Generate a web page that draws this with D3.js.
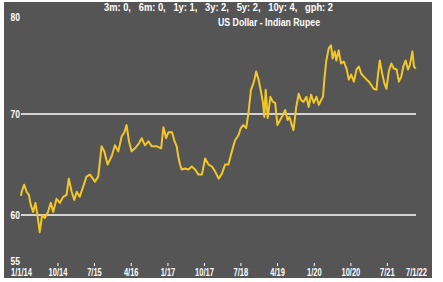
<!DOCTYPE html>
<html><head><meta charset="utf-8">
<script src="https://cdn.jsdelivr.net/npm/d3@7"></script>
<style>
html,body{margin:0;padding:0;background:#fff;}
text{font-family:"Liberation Sans",Arial,sans-serif;font-weight:bold;fill:#fff;}
</style></head>
<body>
<svg id="c" width="443" height="282"></svg>
<script>
const title = "US Dollar - Indian Rupee";
const statNames = ["3m","6m","1y","3y","5y","10y","gph"];
const statValues = [0,0,1,2,2,4,2];

const dates = ["2014-01-01","2014-01-06","2014-01-25","2014-02-12","2014-03-01","2014-03-15","2014-04-02","2014-04-19","2014-05-04","2014-05-21","2014-06-08","2014-06-28","2014-07-22","2014-08-12","2014-08-30","2014-09-24","2014-10-19","2014-11-13","2014-12-08","2014-12-25",
"2015-01-15","2015-02-04","2015-02-22","2015-03-16","2015-04-11","2015-05-06","2015-06-01","2015-06-18","2015-07-08","2015-08-02","2015-08-27","2015-09-16","2015-10-11","2015-11-10","2015-12-05","2015-12-30",
"2016-01-25","2016-02-14","2016-03-01","2016-03-19","2016-04-08","2016-05-03","2016-06-02","2016-06-22","2016-07-17","2016-08-11","2016-09-06","2016-10-13","2016-11-15","2016-12-02","2016-12-22",
"2017-01-09","2017-02-04","2017-02-21","2017-03-11","2017-03-23","2017-04-05","2017-04-18","2017-05-12","2017-06-07","2017-07-02","2017-07-27","2017-08-21","2017-09-16","2017-10-10","2017-11-04","2017-11-30","2017-12-24",
"2018-01-19","2018-02-13","2018-03-08","2018-04-02","2018-04-28","2018-05-22","2018-06-16","2018-07-04","2018-07-23","2018-08-13","2018-08-30","2018-09-18","2018-10-03","2018-10-14","2018-10-27","2018-11-14","2018-12-02","2018-12-17","2018-12-27",
"2019-01-06","2019-01-21","2019-02-10","2019-03-01","2019-03-18","2019-04-04","2019-04-24","2019-05-15","2019-06-01","2019-06-19","2019-07-03","2019-07-21","2019-08-02","2019-08-23","2019-09-10","2019-09-27","2019-10-17","2019-11-07","2019-11-24","2019-12-12",
"2020-01-01","2020-01-21","2020-02-08","2020-02-26","2020-03-10","2020-03-20","2020-04-04","2020-04-22","2020-05-09","2020-05-21","2020-06-06","2020-06-18","2020-07-05","2020-07-23","2020-08-12","2020-09-02","2020-09-19","2020-10-07","2020-10-27","2020-11-16","2020-12-03","2020-12-21",
"2021-01-10","2021-01-31","2021-02-17","2021-03-05","2021-03-24","2021-04-14","2021-04-24","2021-05-09","2021-05-27","2021-06-13","2021-06-28","2021-07-15","2021-08-03","2021-08-22","2021-09-12","2021-09-29","2021-10-17","2021-11-01","2021-11-19","2021-12-06","2021-12-21",
"2022-01-08","2022-01-20","2022-02-02"];
const values = [61.9,62.3,63.0,62.3,62.0,61.0,60.3,61.2,60.0,58.3,60.0,59.7,60.3,61.2,60.3,61.6,61.2,61.8,62.0,63.6,
62.3,61.5,62.3,61.8,62.8,63.8,64.0,63.7,63.3,63.8,66.8,66.3,65.0,65.8,66.9,66.3,
67.8,68.2,68.9,67.3,66.3,66.6,67.1,67.6,66.9,67.3,66.8,66.8,66.6,68.7,67.6,
68.2,68.2,67.4,66.8,65.8,65.0,64.5,64.6,64.5,64.8,64.5,64.0,64.0,65.6,65.0,64.8,64.3,
63.6,64.1,65.0,65.0,66.3,67.4,67.9,68.6,68.9,68.6,70.1,72.4,72.9,73.4,74.2,73.4,72.2,71.1,69.7,
72.4,69.6,71.7,71.2,71.1,68.9,69.4,69.9,70.4,69.4,69.7,68.9,68.4,70.7,72.0,71.4,71.2,71.7,70.7,71.9,
71.1,71.7,70.9,71.4,71.7,73.4,75.3,76.5,76.8,75.5,76.2,75.3,76.3,75.0,75.2,74.5,73.4,73.9,73.2,74.4,74.7,74.0,
73.7,73.4,73.2,72.9,72.5,72.4,73.7,75.3,74.0,73.0,72.5,74.2,75.0,74.5,74.4,73.2,73.7,74.7,75.3,74.4,74.9,
76.2,74.7,74.5];

const yTicks = [55,60,70,80];
const gridValues = [60,70];
const xTickDates = ["2014-01-01","2014-10-01","2015-07-01","2016-04-01","2017-01-01","2017-10-01","2018-07-01","2019-04-01","2020-01-01","2020-10-01","2021-07-01","2022-02-04"];
const xTickLabels = ["1/1/14","10/14","7/15","4/16","1/17","10/17","7/18","4/19","1/20","10/20","7/21","7/1/22"];

const parse = d3.utcParse("%Y-%m-%d");
const data = dates.map((d,i)=>({date:parse(d), value:values[i]}));

const svg = d3.select("#c");
svg.append("rect").attr("x",4).attr("y",2).attr("width",428).attr("height",276).attr("fill","#555555");

const x = d3.scaleUtc().domain([parse(xTickDates[0]), parse(xTickDates[xTickDates.length-1])]).range([21,416]);
const y = d3.scaleLinear().domain([55,80]).range([265.5,13]);

// grid
svg.append("g").selectAll("line").data(gridValues).join("line")
  .attr("x1",x.range()[0]).attr("x2",x.range()[1])
  .attr("y1",d=>y(d)).attr("y2",d=>y(d))
  .attr("stroke","#fff").attr("stroke-width",1.6);

// y labels
const ya = svg.append("g").attr("transform","translate(20,0)")
  .call(d3.axisLeft(y).tickValues(yTicks).tickSize(0).tickPadding(0).tickFormat(d3.format("d")));
ya.select(".domain").remove();
ya.selectAll("text").attr("fill","#fff").style("font-size","10px")
  .attr("dy",d=> d===80 ? "0.72em" : d===55 ? "-0.15em" : "0.34em")
  .attr("transform","scale(0.85,1)");

// x axis
const xa = svg.append("g").attr("transform","translate(0,263)")
  .call(d3.axisBottom(x).tickValues(xTickDates.map(parse)).tickFormat((d,i)=>xTickLabels[i]).tickSize(3).tickPadding(3));
xa.select(".domain").remove();
xa.selectAll(".tick line").attr("stroke","#fff").attr("stroke-opacity",(d,i)=> (i===0||i===xTickDates.length-1)?0:1);
xa.selectAll("text").attr("fill","#fff").style("font-size","10px").attr("transform","scale(0.75,1)");

// line
svg.append("path").datum(data)
  .attr("fill","none").attr("stroke","#f2c72a").attr("stroke-width",2).attr("stroke-linejoin","round")
  .attr("d", d3.line().x(d=>x(d.date)).y(d=>y(d.value)));

// titles
const statText = statNames.map((n,i)=>`${n}: ${statValues[i]}`).join(",   ");
svg.append("text").attr("x",104).attr("y",10.8).style("font-size","10px").style("white-space","pre")
  .attr("textLength",229).attr("lengthAdjust","spacingAndGlyphs").text(statText);
svg.append("text").attr("x",218).attr("y",26.3).style("font-size","10px")
  .attr("textLength",102).attr("lengthAdjust","spacingAndGlyphs").text(title);
</script>
</body></html>
